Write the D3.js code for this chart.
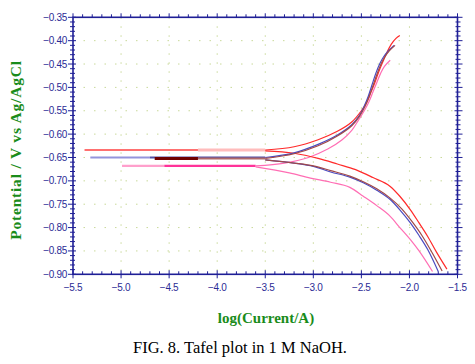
<!DOCTYPE html>
<html><head><meta charset="utf-8">
<script src="https://cdn.jsdelivr.net/npm/d3@7"></script>
<style>body{margin:0;background:#fff}svg{display:block}</style>
</head><body>
<svg id="c" width="475" height="364"></svg>
<script>
// ---- data ----
const xTickValues = [-5.5,-5.0,-4.5,-4.0,-3.5,-3.0,-2.5,-2.0,-1.5];
const yTickValues = [-0.35,-0.40,-0.45,-0.50,-0.55,-0.60,-0.65,-0.70,-0.75,-0.80,-0.85,-0.90];
const seriesNames = ["red","blue","maroon","pink"];
const ecorr = [-0.634,-0.650,-0.652,-0.668];
// flat (near Ecorr) segments: [logI start, logI end]
const flatSegA = [[-5.38,-4.2],[-5.32,-4.7],[-4.65,-4.2],[-4.99,-4.55]];
const flatSegB = [[-4.2,-3.5],[-4.7,-3.5],[-4.2,-3.5],[-4.55,-3.6]];
// anodic branches [logI, E]
const redAnodic = [[-3.5,-0.634],[-3.2,-0.627],[-2.95,-0.612],[-2.75,-0.594],[-2.6,-0.574],[-2.5,-0.55],[-2.44,-0.53],[-2.40,-0.51],[-2.36,-0.49],[-2.32,-0.467],[-2.28,-0.447],[-2.24,-0.428],[-2.19,-0.408],[-2.14,-0.395],[-2.10,-0.389]];
const blueAnodic = [[-3.5,-0.65],[-3.2,-0.64],[-2.95,-0.622],[-2.75,-0.602],[-2.6,-0.58],[-2.52,-0.56],[-2.47,-0.54],[-2.43,-0.52],[-2.39,-0.495],[-2.35,-0.47],[-2.31,-0.45],[-2.27,-0.435],[-2.22,-0.422],[-2.16,-0.41]];
const maroonAnodic = [[-3.5,-0.652],[-3.2,-0.642],[-2.95,-0.625],[-2.75,-0.604],[-2.6,-0.582],[-2.52,-0.562],[-2.46,-0.54],[-2.42,-0.52],[-2.38,-0.497],[-2.34,-0.473],[-2.30,-0.452],[-2.26,-0.436],[-2.21,-0.422],[-2.15,-0.41]];
const pinkAnodic = [[-3.6,-0.668],[-3.3,-0.662],[-3.05,-0.65],[-2.85,-0.632],[-2.7,-0.612],[-2.6,-0.592],[-2.53,-0.57],[-2.47,-0.55],[-2.42,-0.53],[-2.38,-0.51],[-2.34,-0.49],[-2.30,-0.47],[-2.26,-0.455],[-2.20,-0.442]];
// cathodic branches [logI, E]
const redCathodic = [[-3.5,-0.636],[-3.2,-0.641],[-2.95,-0.652],[-2.75,-0.664],[-2.56,-0.676],[-2.38,-0.693],[-2.2,-0.712],[-2.1,-0.733],[-1.99,-0.762],[-1.9,-0.79],[-1.81,-0.819],[-1.72,-0.852],[-1.61,-0.889]];
const blueCathodic = [[-3.5,-0.655],[-3.2,-0.662],[-3.0,-0.669],[-2.82,-0.681],[-2.62,-0.692],[-2.48,-0.704],[-2.34,-0.72],[-2.20,-0.74],[-2.1,-0.762],[-1.99,-0.79],[-1.9,-0.817],[-1.81,-0.847],[-1.70,-0.894]];
const maroonCathodic = [[-3.5,-0.655],[-3.2,-0.662],[-3.0,-0.668],[-2.82,-0.678],[-2.62,-0.69],[-2.48,-0.702],[-2.34,-0.717],[-2.20,-0.737],[-2.08,-0.76],[-1.97,-0.788],[-1.87,-0.817],[-1.78,-0.848],[-1.66,-0.893]];
const pinkCathodic = [[-3.6,-0.670],[-3.25,-0.683],[-3.03,-0.694],[-2.82,-0.703],[-2.62,-0.714],[-2.48,-0.733],[-2.34,-0.753],[-2.20,-0.776],[-2.1,-0.8],[-1.99,-0.826],[-1.9,-0.85],[-1.76,-0.894]];

const anodic = [redAnodic, blueAnodic, maroonAnodic, pinkAnodic];
const cathodic = [redCathodic, blueCathodic, maroonCathodic, pinkCathodic];

// ---- styles ----
const lineColor = ["#ff2a2a","#4a4ac0","#a04848","#ff6eb4"];
const flatColorA = ["#ff4040","#9494dc","#700000","#ffa0cc"];
const flatColorB = ["#ffbcbc","#5050a8","#b06868","#ff3399"];
const flatWidthA = [1.6,2,3,2.4];
const flatWidthB = [3,2,2,2.4];
const axisColor = "#1f1f96";
const green = "#1a8c1a";

const svg = d3.select("#c");
const L=73, R=457.5, T=17.3, B=274.3;
const x = d3.scaleLinear().domain([-5.5,-1.5]).range([L,R]);
const y = d3.scaleLinear().domain([-0.90,-0.35]).range([B,T]);

// grid
const grid = svg.append("g");
grid.selectAll("line.v").data(xTickValues.slice(1,-1)).enter().append("line")
  .attr("x1",d=>x(d)).attr("x2",d=>x(d)).attr("y1",T).attr("y2",B)
  .attr("stroke","#c9d99a").attr("stroke-width",1).attr("stroke-dasharray","1.5,7.5");
grid.selectAll("line.h").data(yTickValues.slice(1,-1)).enter().append("line")
  .attr("y1",d=>y(d)).attr("y2",d=>y(d)).attr("x1",L).attr("x2",R)
  .attr("stroke","#c9d99a").attr("stroke-width",1).attr("stroke-dasharray","1.5,9");

// curves
const line = d3.line().x(d=>x(d[0])).y(d=>y(d[1])).curve(d3.curveMonotoneX);
const lineY = d3.line().x(d=>x(d[0])).y(d=>y(d[1])).curve(d3.curveCatmullRom);
const curves = svg.append("g");
seriesNames.forEach((n,i)=>{
  const e = ecorr[i];
  curves.append("line").attr("x1",x(flatSegA[i][0])).attr("x2",x(flatSegA[i][1]))
    .attr("y1",y(e)).attr("y2",y(e)).attr("stroke",flatColorA[i]).attr("stroke-width",flatWidthA[i]);
  curves.append("line").attr("x1",x(flatSegB[i][0])).attr("x2",x(flatSegB[i][1]))
    .attr("y1",y(e)).attr("y2",y(e)).attr("stroke",flatColorB[i]).attr("stroke-width",flatWidthB[i]);
});
[3,0,1,2].forEach(i=>{
  curves.append("path").attr("d",lineY(anodic[i])).attr("fill","none")
    .attr("stroke",lineColor[i]).attr("stroke-width",1.2);
  curves.append("path").attr("d",line(cathodic[i])).attr("fill","none")
    .attr("stroke",lineColor[i]).attr("stroke-width",1.2);
});

// axes frame
const ax = svg.append("g").attr("stroke",axisColor);
ax.append("rect").attr("x",L).attr("y",T).attr("width",R-L).attr("height",B-T)
  .attr("fill","none").attr("stroke-width",1.6);

// x ticks (minor every 0.1)
const xMinor = d3.range(0,41).map(k=>-5.5+k*0.1);
xMinor.forEach(v=>{
  const major = Math.abs((v*2)-Math.round(v*2))<1e-6;
  const px = x(v);
  ax.append("line").attr("x1",px).attr("x2",px).attr("y1",B-(major?4:3)).attr("y2",B+(major?4:0)).attr("stroke-width",1);
  ax.append("line").attr("x1",px).attr("x2",px).attr("y1",T).attr("y2",T-(major?4:3)).attr("stroke-width",1);
});
// y ticks (minor every 0.01)
const yMinor = d3.range(0,56).map(k=>-0.90+k*0.01);
yMinor.forEach(v=>{
  const major = Math.abs(v*20-Math.round(v*20))<1e-6;
  const py = y(v);
  ax.append("line").attr("x1",L-(major?5:3)).attr("x2",L+(major?3:2)).attr("y1",py).attr("y2",py).attr("stroke-width",1);
  ax.append("line").attr("x1",R-(major?3:2)).attr("x2",R+(major?5:3)).attr("y1",py).attr("y2",py).attr("stroke-width",1);
});

// tick labels
const lab = svg.append("g").attr("fill","#2b2b95").attr("font-family","Liberation Sans, Arial, sans-serif")
  .attr("font-size","10px").attr("letter-spacing","-0.3px");
lab.selectAll("text.x").data(xTickValues).enter().append("text")
  .attr("x",d=>x(d)).attr("y",B+17).attr("text-anchor","middle").text(d=>d3.format(".1f")(d));
lab.selectAll("text.y").data(yTickValues).enter().append("text")
  .attr("x",L-6).attr("y",d=>y(d)+3.5).attr("text-anchor","end").text(d=>d3.format(".2f")(d));

// axis titles
svg.append("text").attr("x",266).attr("y",323).attr("text-anchor","middle")
  .attr("font-family","Liberation Serif, Times New Roman, serif").attr("font-weight","bold")
  .attr("font-size","15px").attr("fill",green).text("log(Current/A)");
svg.append("text").attr("transform","translate(21,150) rotate(-90)").attr("text-anchor","middle")
  .attr("font-family","Liberation Serif, Times New Roman, serif").attr("font-weight","bold")
  .attr("font-size","15.5px").attr("letter-spacing","0.8px").attr("fill",green).text("Potential / V vs Ag/AgCl");

// caption
svg.append("text").attr("x",240).attr("y",353).attr("text-anchor","middle")
  .attr("font-family","Liberation Serif, Times New Roman, serif")
  .attr("font-size","16.5px").attr("fill","#000").text("FIG. 8. Tafel plot in 1 M NaOH.");
</script>
</body></html>
